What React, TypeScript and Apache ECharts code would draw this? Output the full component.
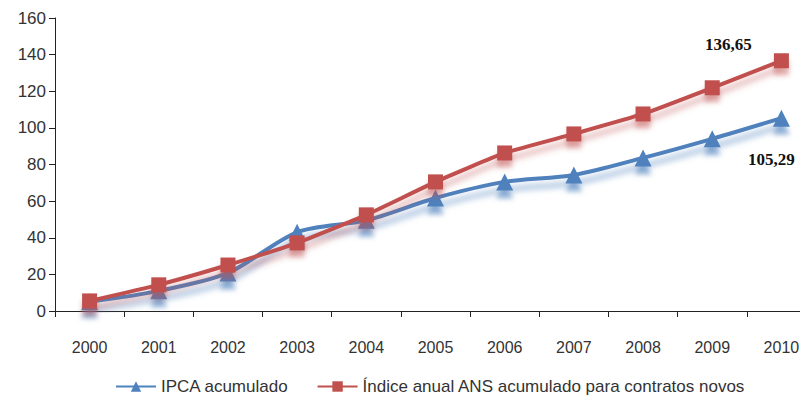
import React, { useEffect, useRef } from "react";
import * as echarts from "echarts";

const years = ["2000", "2001", "2002", "2003", "2004", "2005", "2006", "2007", "2008", "2009", "2010"];
const ipca = [5, 11, 20.8, 43, 49.5, 61.7, 70.5, 74.3, 83.6, 94, 105.29];
const ans = [5.5, 14.3, 25.1, 37.2, 52.5, 70.5, 86.3, 96.7, 107.6, 121.9, 136.65];
const yTicks = { min: 0, max: 160, interval: 20 };
const seriesNames = ["IPCA acumulado", "Índice anual ANS acumulado para contratos novos"];

const fmt = (v: number) => v.toFixed(2).replace(".", ",");

export default function App() {
  const ref = useRef<HTMLDivElement>(null);
  useEffect(() => {
    if (!ref.current) return;
    const chart = echarts.init(ref.current, null, { renderer: "svg" });
    const last = years.length - 1;
    const labelFont = {
      fontFamily: "Liberation Serif",
      fontWeight: "bold" as const,
      fontSize: 17,
      color: "#111",
    };
    chart.setOption({
      animation: false,
      grid: { left: 55, top: 18, bottom: 91, right: 0, containLabel: false },
      legend: {
        left: 110,
        bottom: 2,
        itemWidth: 40,
        itemHeight: 13,
        itemGap: 28,
        textStyle: { fontFamily: "Liberation Sans", fontSize: 17, color: "#333" },
        data: seriesNames,
      },
      xAxis: {
        type: "category",
        data: years,
        boundaryGap: true,
        axisLine: { lineStyle: { color: "#222", width: 1 } },
        axisTick: { show: true, length: 6, lineStyle: { color: "#222" } },
        axisLabel: {
          margin: 28,
          fontFamily: "Liberation Sans",
          fontSize: 16,
          color: "#333",
        },
        splitLine: { show: false },
      },
      yAxis: {
        type: "value",
        min: yTicks.min,
        max: yTicks.max,
        interval: yTicks.interval,
        axisLine: { show: true, lineStyle: { color: "#222", width: 1 } },
        axisTick: { show: true, length: 6, lineStyle: { color: "#222" } },
        axisLabel: {
          margin: 9,
          fontFamily: "Liberation Sans",
          fontSize: 17,
          color: "#333",
        },
        splitLine: { show: false },
      },
      series: [
        {
          name: seriesNames[0],
          type: "line",
          smooth: 0.3,
          symbol: "triangle",
          symbolSize: 17,
          itemStyle: {
            color: "#4F81BD",
            shadowColor: "rgba(79,129,189,0.6)",
            shadowBlur: 5,
            shadowOffsetY: 8,
          },
          lineStyle: {
            width: 4,
            color: "#4F81BD",
            shadowColor: "rgba(79,129,189,0.6)",
            shadowBlur: 6,
            shadowOffsetY: 8,
          },
          data: ipca.map((v, i) =>
            i === last
              ? {
                  value: v,
                  label: {
                    show: true,
                    position: "bottom",
                    offset: [-10, 19],
                    formatter: () => fmt(v),
                    ...labelFont,
                  },
                }
              : v
          ),
          z: 2,
        },
        {
          name: seriesNames[1],
          type: "line",
          smooth: 0.15,
          symbol: "rect",
          symbolSize: 15,
          itemStyle: {
            color: "#C0504D",
            shadowColor: "rgba(192,80,77,0.45)",
            shadowBlur: 5,
            shadowOffsetY: 7,
          },
          lineStyle: {
            width: 4,
            color: "#C0504D",
            shadowColor: "rgba(192,80,77,0.5)",
            shadowBlur: 6,
            shadowOffsetY: 7,
          },
          data: ans.map((v, i) =>
            i === last
              ? {
                  value: v,
                  label: {
                    show: true,
                    position: "top",
                    offset: [-53, 5],
                    formatter: () => fmt(v),
                    ...labelFont,
                  },
                }
              : v
          ),
          z: 3,
        },
      ],
    });
    return () => chart.dispose();
  }, []);
  return (
    <div style={{ position: "absolute", left: 0, top: 0, width: 800, height: 402, overflow: "hidden" }}>
      <div ref={ref} style={{ width: 816, height: 402 }} />
    </div>
  );
}
